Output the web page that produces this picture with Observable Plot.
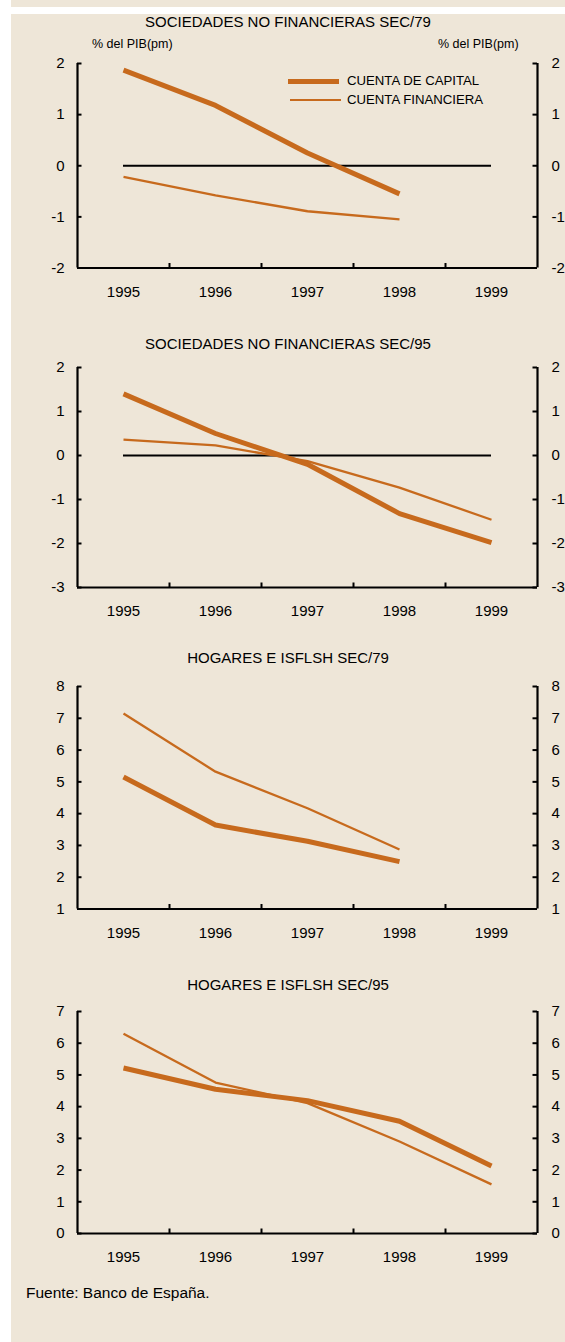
<!DOCTYPE html>
<html>
<head>
<meta charset="utf-8">
<script src="https://cdn.jsdelivr.net/npm/d3@7"></script>
<script src="https://cdn.jsdelivr.net/npm/@observablehq/plot@0.6"></script>
<style>
  html, body { margin: 0; padding: 0; background: #ffffff; }
  body { width: 565px; height: 1342px; position: relative; overflow: hidden;
         font-family: "Liberation Sans", Arial, sans-serif; color: #000; }
  .bg { position: absolute; left: 11px; right: 0; background: #EEE6D8; }
  .title { position: absolute; left: 11px; width: 554px; text-align: center; font-size: 15px; line-height: 18px; }
  .unit { position: absolute; font-size: 12.5px; line-height: 14px; }
  .panel { position: absolute; left: 11px; }
  .legend { position: absolute; left: 288px; font-size: 13.2px; line-height: 16px; }
  .legend .row { position: absolute; left: 0; white-space: nowrap; }
  .legend .sw { position: absolute; left: 0; width: 51px; }
  .legend .lab { position: absolute; left: 59px; top: -8px; }
  .caption { position: absolute; left: 26px; font-size: 15.5px; line-height: 18px; }
  svg text { font-weight: normal; }
</style>
</head>
<body>
<div class="bg" style="top:0;height:7px"></div>
<div class="bg" style="top:14px;bottom:0"></div>
<div id="root"></div>
<script>
// ---------- data ----------
const years = [1995, 1996, 1997, 1998, 1999];
const seriesNames = ["CUENTA DE CAPITAL", "CUENTA FINANCIERA"];
const panelTitles = [
  "SOCIEDADES NO FINANCIERAS SEC/79",
  "SOCIEDADES NO FINANCIERAS SEC/95",
  "HOGARES E ISFLSH SEC/79",
  "HOGARES E ISFLSH SEC/95"
];
const unitLabel = "% del PIB(pm)";
const sourceNote = "Fuente: Banco de España.";

const soc79Capital    = [1.87, 1.18, 0.25, -0.55];
const soc79Financiera = [-0.22, -0.58, -0.89, -1.05];
const soc95Capital    = [1.40, 0.50, -0.20, -1.32, -1.98];
const soc95Financiera = [0.36, 0.23, -0.13, -0.73, -1.46];
const hog79Capital    = [5.15, 3.64, 3.13, 2.49];
const hog79Financiera = [7.15, 5.32, 4.17, 2.87];
const hog95Capital    = [5.22, 4.55, 4.19, 3.54, 2.13];
const hog95Financiera = [6.30, 4.76, 4.11, 2.90, 1.55];

const yTicksSoc79 = [-2, -1, 0, 1, 2];
const yTicksSoc95 = [-3, -2, -1, 0, 1, 2];
const yTicksHog79 = [1, 2, 3, 4, 5, 6, 7, 8];
const yTicksHog95 = [0, 1, 2, 3, 4, 5, 6, 7];

// ---------- build ----------
const lineColor = "#C76A1D";
function rows(capital, financiera) {
  return [
    ...capital.map((v, i) => ({year: years[i], value: v, serie: seriesNames[0]})),
    ...financiera.map((v, i) => ({year: years[i], value: v, serie: seriesNames[1]}))
  ];
}

const panels = [
  {title: panelTitles[0], data: rows(soc79Capital, soc79Financiera), ticks: yTicksSoc79, zero: true,
   frameTop: 63, frameH: 204.5, titleY: 13, unit: true, legend: true},
  {title: panelTitles[1], data: rows(soc95Capital, soc95Financiera), ticks: yTicksSoc95, zero: true,
   frameTop: 367, frameH: 220, titleY: 335},
  {title: panelTitles[2], data: rows(hog79Capital, hog79Financiera), ticks: yTicksHog79, zero: false,
   frameTop: 686, frameH: 222.5, titleY: 649},
  {title: panelTitles[3], data: rows(hog95Capital, hog95Financiera), ticks: yTicksHog95, zero: false,
   frameTop: 1011, frameH: 222, titleY: 976}
];

const xDomain = [years[0] - 0.5, years[years.length - 1] + 0.5];
const boundaries = years.slice(0, -1).map(y => y + 0.5);
const root = document.getElementById("root");
const mt = 12, mb = 42, ml = 66, mr = 28, W = 554;
const frameW = W - ml - mr;
const tickLen = 4.5;

for (const p of panels) {
  const t = document.createElement("div");
  t.className = "title";
  t.style.top = p.titleY + "px";
  t.textContent = p.title;
  root.appendChild(t);

  const yDomain = [p.ticks[0], p.ticks[p.ticks.length - 1]];
  const marks = [];
  if (p.zero) marks.push(Plot.ruleY([0], {x1: years[0], x2: years[years.length - 1], stroke: "#000", strokeWidth: 2}));
  marks.push(
    Plot.line(p.data.filter(d => d.serie === seriesNames[1]), {x: "year", y: "value", stroke: lineColor, strokeWidth: 2.3, strokeLinecap: "butt"}),
    Plot.line(p.data.filter(d => d.serie === seriesNames[0]), {x: "year", y: "value", stroke: lineColor, strokeWidth: 5, strokeLinecap: "butt"}),
    // inward tick marks
    Plot.tickY(p.ticks, {y: d => d, stroke: "#000", strokeWidth: 2, insetRight: frameW - tickLen}),
    Plot.tickY(p.ticks, {y: d => d, stroke: "#000", strokeWidth: 2, insetLeft: frameW - tickLen}),
    Plot.tickX(boundaries, {x: d => d, stroke: "#000", strokeWidth: 2, insetTop: p.frameH - tickLen}),
    // axis lines
    Plot.ruleX(xDomain, {stroke: "#000", strokeWidth: 2.2}),
    Plot.ruleY([yDomain[0]], {stroke: "#000", strokeWidth: 2.2}),
    // tick labels
    Plot.axisY(p.ticks, {anchor: "left", tickSize: 0, tickPadding: 13, label: null, tickFormat: d => String(d)}),
    Plot.axisY(p.ticks, {anchor: "right", tickSize: 0, tickPadding: 14, label: null, tickFormat: d => String(d)}),
    Plot.axisX(years, {anchor: "bottom", tickSize: 0, tickPadding: 18, label: null, tickFormat: d => String(d)})
  );
  const svg = Plot.plot({
    width: W,
    height: mt + p.frameH + mb,
    marginTop: mt, marginBottom: mb, marginLeft: ml, marginRight: mr,
    x: {type: "linear", domain: xDomain},
    y: {type: "linear", domain: yDomain},
    style: {background: "transparent", fontFamily: "'Liberation Sans', Arial, sans-serif", fontSize: "15px", fontWeight: "normal", color: "#000", overflow: "visible"},
    marks
  });
  const wrap = document.createElement("div");
  wrap.className = "panel";
  wrap.style.top = (p.frameTop - mt) + "px";
  wrap.appendChild(svg);
  root.appendChild(wrap);

  if (p.unit) {
    const u1 = document.createElement("div");
    u1.className = "unit"; u1.style.left = "92px"; u1.style.top = "37px"; u1.textContent = unitLabel;
    const u2 = document.createElement("div");
    u2.className = "unit"; u2.style.left = "438px"; u2.style.top = "37px"; u2.textContent = unitLabel;
    root.appendChild(u1); root.appendChild(u2);
  }
  if (p.legend) {
    const lg = document.createElement("div");
    lg.className = "legend";
    lg.style.top = "0px";
    const widths = [5, 2.3];
    const ys = [81, 100];
    seriesNames.forEach((name, i) => {
      const r = document.createElement("div");
      r.className = "row"; r.style.top = ys[i] + "px";
      const sw = document.createElement("div");
      sw.className = "sw";
      sw.style.top = (-widths[i] / 2) + "px";
      sw.style.height = widths[i] + "px";
      sw.style.background = lineColor;
      if (i === 1) { sw.style.left = "2px"; }
      const lab = document.createElement("div");
      lab.className = "lab"; lab.textContent = name;
      r.appendChild(sw); r.appendChild(lab);
      lg.appendChild(r);
    });
    root.appendChild(lg);
  }
}

const cap = document.createElement("div");
cap.className = "caption";
cap.style.top = "1284px";
cap.textContent = sourceNote;
root.appendChild(cap);
</script>
</body>
</html>
